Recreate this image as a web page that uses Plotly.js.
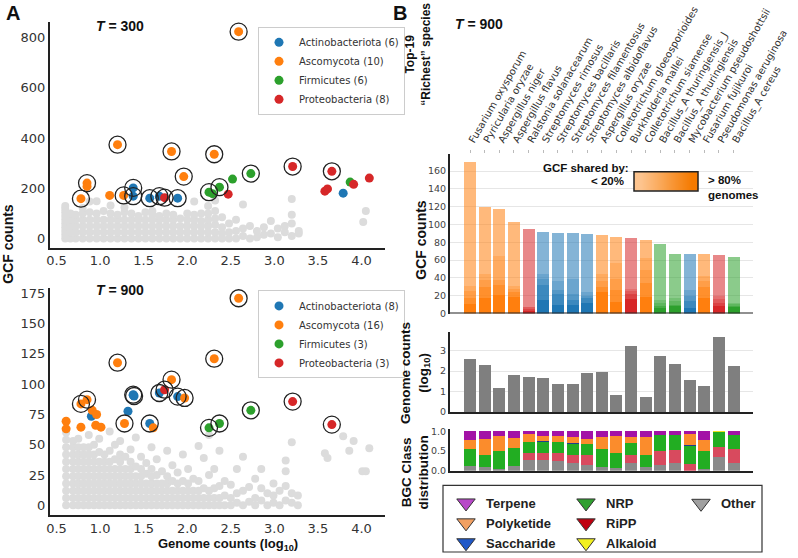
<!DOCTYPE html>
<html>
<head>
<meta charset="utf-8">
<script src="https://cdn.plot.ly/plotly-3.0.1.min.js"></script>
<style>
  html, body { margin: 0; padding: 0; background: #fff; }
  #chart { width: 798px; height: 558px; }
</style>
</head>
<body>
<div id="chart"></div>
<script>
// ---------- data: panel A ----------
var phyla = ["Actinobacteriota", "Ascomycota", "Firmicutes", "Proteobacteria"];
var phylumColors = ["#1f77b4", "#ff7f0e", "#2ca02c", "#d62728"];

// T = 300  (x = genome counts log10, y = GCF counts, top = circled top-19 species)
var act300X = [1.38, 1.38, 1.57, 1.68, 1.89, 3.79];
var act300Y = [202, 169, 161, 169, 161, 181];
var act300Top = [1, 1, 1, 1, 1, 0];
var asc300X = [0.78, 0.85, 0.85, 1.11, 1.27, 1.20, 1.82, 1.96, 2.31, 2.59];
var asc300Y = [159, 221, 208, 172, 172, 374, 347, 247, 336, 824];
var asc300Top = [1, 1, 0, 0, 1, 1, 1, 1, 1, 1];
var fir300X = [2.25, 2.29, 2.37, 2.52, 2.73, 3.87];
var fir300Y = [185, 179, 205, 237, 259, 225];
var fir300Top = [1, 0, 1, 0, 1, 0];
var pro300X = [1.74, 2.47, 3.21, 3.58, 3.61, 3.66, 3.91, 4.09];
var pro300Y = [163, 177, 287, 189, 198, 268, 216, 241];
var pro300Top = [1, 0, 1, 0, 0, 1, 0, 0];

// T = 900
var act900X = [1.38, 1.39, 1.38, 1.68, 1.89, 1.57, 1.32, 0.90];
var act900Y = [91.3, 90.2, 90.8, 92.7, 89.7, 67.5, 77.6, 73.5];
var act900Top = [1, 1, 0, 1, 1, 1, 0, 0];
var asc900X = [2.59, 2.31, 1.20, 1.82, 1.97, 0.85, 0.78, 1.28, 0.61, 0.61, 0.78, 0.91, 0.96, 0.95, 1.01, 1.61];
var asc900Y = [170.9, 121, 117.7, 103.7, 88.6, 87.2, 83.7, 67.5, 69.4, 63.1, 64.5, 78.4, 74.9, 66.1, 64.5, 63.9];
var asc900Top = [1, 1, 1, 1, 1, 1, 1, 1, 0, 0, 0, 0, 0, 0, 0, 0];
var fir900X = [2.25, 2.37, 2.73];
var fir900Y = [63.9, 67.5, 78.4];
var fir900Top = [1, 1, 1];
var pro900X = [1.74, 3.21, 3.66];
var pro900Y = [95.4, 85.6, 66.6];
var pro900Top = [1, 1, 1];

// all other species (grey cloud), as [x, [y values]] columns
var bg300 = [
  [0.60, [0, 15, 30, 45, 60, 75, 90, 105, 118, 130]], [0.66, [0, 25, 50, 75, 100]],
  [0.72, [0, 25, 50, 75, 95]], [0.80, [0, 25, 50, 75, 100, 122]],
  [0.88, [0, 25, 50, 75, 105, 148]], [0.96, [0, 25, 50, 75, 100, 149]],
  [1.04, [0, 25, 50, 75, 110]], [1.12, [0, 25, 50, 75, 100, 132]],
  [1.20, [0, 25, 50, 75, 95]], [1.28, [0, 25, 50, 75, 105, 125]],
  [1.36, [0, 25, 50, 75, 100]], [1.44, [0, 25, 50, 75, 90]],
  [1.52, [0, 25, 50, 75, 105]], [1.60, [0, 25, 50, 75, 95, 110]],
  [1.68, [0, 25, 50, 75, 90]], [1.76, [0, 25, 50, 75, 100]],
  [1.84, [0, 25, 50, 75, 95]], [1.92, [0, 25, 50, 80]],
  [2.00, [0, 25, 50, 75, 100]], [2.08, [0, 25, 50, 75, 95, 148]],
  [2.16, [0, 25, 50, 70, 100]], [2.24, [0, 25, 50, 75, 100, 130]],
  [2.32, [0, 25, 55, 80, 110, 152]], [2.40, [0, 20, 45, 85]],
  [2.48, [0, 25, 60]], [2.56, [0, 30, 75]], [2.64, [10, 40, 136]],
  [2.72, [0, 50]], [2.80, [5, 30]], [2.88, [15, 45]], [2.96, [20, 70]],
  [3.04, [5, 40]], [3.12, [25, 50]], [3.20, [10, 60, 95, 158]],
  [3.28, [20, 30]], [4.02, [66]], [4.05, [110]]
];
var bg900 = [
  [0.61, [0, 6, 12, 18, 24, 30, 36, 42, 48, 54, 60]], [0.69, [0, 6, 12, 18, 24, 30, 36, 42, 48, 53]],
  [0.75, [0, 6, 12, 18, 24, 30, 36, 42, 48, 55]], [0.81, [0, 6, 12, 18, 24, 30, 36, 42, 48]],
  [0.87, [0, 6, 12, 18, 24, 30, 36, 42, 48, 58]], [0.93, [0, 6, 12, 18, 24, 30, 36, 42, 50]],
  [0.99, [0, 6, 12, 18, 24, 30, 36, 44, 55]], [1.05, [0, 6, 12, 18, 24, 30, 36, 42]],
  [1.11, [0, 6, 12, 18, 24, 30, 36, 45, 61]], [1.17, [0, 6, 12, 18, 24, 30, 38, 50]],
  [1.23, [0, 6, 12, 18, 24, 30, 36, 42, 53]], [1.29, [0, 6, 12, 18, 24, 30, 40]],
  [1.35, [0, 6, 12, 18, 24, 30, 36, 46]], [1.41, [0, 6, 12, 18, 24, 32, 56]],
  [1.47, [0, 6, 12, 18, 24, 30, 40]], [1.53, [0, 6, 12, 18, 26, 35]],
  [1.59, [0, 6, 12, 18, 24, 30, 48]], [1.65, [0, 6, 12, 18, 25, 38]],
  [1.71, [0, 6, 12, 18, 28]], [1.77, [0, 6, 12, 18, 24, 45]],
  [1.83, [0, 6, 12, 20, 33]], [1.89, [0, 6, 12, 18, 27]],
  [1.95, [0, 6, 12, 20, 42]], [2.01, [0, 6, 12, 18, 30]],
  [2.07, [0, 6, 12, 22]], [2.13, [0, 6, 12, 20, 49]], [2.19, [0, 6, 14, 39]],
  [2.25, [0, 6, 12, 25, 58]], [2.31, [0, 6, 14, 30]], [2.37, [0, 6, 16, 45]],
  [2.43, [0, 8, 20]], [2.50, [0, 6, 17]], [2.57, [2, 10, 30]], [2.64, [0, 12, 40]],
  [2.71, [3, 15]], [2.78, [0, 6, 22]], [2.85, [4, 14, 30]], [2.92, [0, 10]],
  [2.99, [2, 8, 18]], [3.06, [0, 12]], [3.13, [4, 16, 28, 37]], [3.20, [2, 10, 52]],
  [3.27, [0, 8]], [3.58, [43]], [3.61, [39]], [3.79, [57]], [3.86, [45]],
  [3.91, [53]], [4.01, [28]], [4.05, [28]], [4.09, [47]]
];

// ---------- data: panel B ----------
var species = ["Fusarium oxysporum", "Pyricularia oryzae", "Aspergillus niger", "Aspergillus flavus",
  "Ralstonia solanacearum", "Streptomyces rimosus", "Streptomyces bacillaris", "Streptomyces filamentosus",
  "Streptomyces albidoflavus", "Aspergillus oryzae", "Colletotrichum gloeosporioides", "Burkholderia mallei",
  "Colletotrichum siamense", "Bacillus_A thuringiensis_J", "Bacillus_A thuringiensis",
  "Mycobacterium pseudoshottsii", "Fusarium fujikuroi", "Pseudomonas aeruginosa", "Bacillus_A cereus"];
var speciesPhylum = [1, 1, 1, 1, 3, 0, 0, 0, 0, 1, 1, 3, 1, 2, 2, 0, 1, 3, 2];

// GCF counts split by share of genomes holding the GCF
var sharedOver80 = [11, 18, 21, 19, 3, 15, 10, 10, 12, 24, 13, 16, 19, 6, 8, 6, 18, 8, 7];
var shared60to80 = [7, 12, 11, 5, 2, 17, 12, 5, 5, 6, 13, 6, 15, 3, 2, 8, 12, 4, 2];
var shared40to60 = [7, 8, 6, 4, 2, 7, 5, 7, 3, 7, 13, 3, 15, 3, 4, 6, 7, 4, 2];
var shared20to40 = [6, 7, 27, 3, 0, 6, 10, 17, 4, 8, 18, 3, 13, 3, 4, 7, 5, 4, 1];
var sharedUnder20 = [139, 75, 52, 72, 88, 47, 54, 51, 65, 43, 29, 57, 21, 63, 49, 40, 25, 46, 51];

var genomeCounts = [2.60, 2.31, 1.19, 1.81, 1.73, 1.66, 1.35, 1.35, 1.89, 1.97, 0.82, 3.21, 0.76, 2.73, 2.37, 1.56, 1.26, 3.68, 2.24];

// BGC class fractions
var fracOther = [0.12, 0.10, 0.04, 0.13, 0.28, 0.28, 0.24, 0.20, 0.15, 0.09, 0.08, 0.20, 0.10, 0.15, 0.19, 0, 0.04, 0.36, 0.19];
var fracRiPP = [0, 0, 0, 0, 0.18, 0.16, 0.20, 0.20, 0.24, 0, 0, 0.20, 0, 0.35, 0.34, 0.17, 0, 0.25, 0.35];
var fracNRP = [0.43, 0.31, 0.46, 0.44, 0.28, 0.30, 0.29, 0.28, 0.29, 0.47, 0.36, 0.29, 0.31, 0.41, 0.37, 0.45, 0.47, 0.37, 0.36];
var fracSaccharide = [0, 0, 0, 0, 0, 0.015, 0, 0.015, 0, 0, 0, 0, 0, 0, 0, 0.02, 0, 0, 0];
var fracPolyketide = [0.24, 0.40, 0.37, 0.27, 0.18, 0.13, 0.14, 0.17, 0.12, 0.29, 0.43, 0.17, 0.44, 0, 0, 0.29, 0.28, 0, 0];
var fracAlkaloid = [0, 0, 0, 0, 0, 0, 0, 0, 0, 0, 0, 0, 0, 0, 0, 0, 0, 0.025, 0];
var fracTerpene = [0.21, 0.19, 0.13, 0.16, 0.08, 0.12, 0.13, 0.13, 0.20, 0.15, 0.13, 0.14, 0.15, 0.09, 0.10, 0.07, 0.21, 0, 0.10];

var bgcClasses = ["Other", "RiPP", "NRP", "Saccharide", "Polyketide", "Alkaloid", "Terpene"];
var bgcFractions = [fracOther, fracRiPP, fracNRP, fracSaccharide, fracPolyketide, fracAlkaloid, fracTerpene];
var bgcBarColors = ["#8a8a8a", "#d84a5e", "#22ad22", "#1f3d8a", "#fb8c2c", "#f0e020", "#a312a6"];
var bgcLegendColors = {Terpene: "#b848c8", Polyketide: "#f2a062", Saccharide: "#2058c8",
  NRP: "#30a030", RiPP: "#c00010", Alkaloid: "#f2f020", Other: "#a0a0a0"};
var legendColumns = [["Terpene", "Polyketide", "Saccharide"], ["NRP", "RiPP", "Alkaloid"], ["Other"]];

// ---------- helpers ----------
var W = 798, H = 558;
function px(x) { return x / W; }
function py(y) { return 1 - y / H; }
function hexA(hex, a) {
  var n = parseInt(hex.slice(1), 16);
  return "rgba(" + (n >> 16) + "," + ((n >> 8) & 255) + "," + (n & 255) + "," + a + ")";
}
function flat(cols) {
  var x = [], y = [];
  cols.forEach(function (c) { c[1].forEach(function (v) { x.push(c[0]); y.push(v); }); });
  return {x: x, y: y};
}

var traces = [];

// ---------- panel A traces ----------
function scatterPanel(bg, groups, xa, ya, legendId) {
  var g = flat(bg);
  traces.push({type: "scatter", mode: "markers", x: g.x, y: g.y, xaxis: xa, yaxis: ya,
    marker: {color: "#dcdcdc", size: 8}, showlegend: false, hoverinfo: "skip"});
  var cx = [], cy = [];
  groups.forEach(function (grp, i) {
    traces.push({type: "scatter", mode: "markers", x: grp[0], y: grp[1], xaxis: xa, yaxis: ya,
      name: phyla[i] + " (" + grp[0].length + ")", legend: legendId,
      marker: {color: phylumColors[i], size: 9}});
    grp[2].forEach(function (t, k) { if (t) { cx.push(grp[0][k]); cy.push(grp[1][k]); } });
  });
  traces.push({type: "scatter", mode: "markers", x: cx, y: cy, xaxis: xa, yaxis: ya,
    marker: {symbol: "circle-open", size: 17, color: "#222", line: {width: 1.3}},
    showlegend: false, hoverinfo: "skip"});
}
scatterPanel(bg300, [[act300X, act300Y, act300Top], [asc300X, asc300Y, asc300Top],
  [fir300X, fir300Y, fir300Top], [pro300X, pro300Y, pro300Top]], "x", "y", "legend");
scatterPanel(bg900, [[act900X, act900Y, act900Top], [asc900X, asc900Y, asc900Top],
  [fir900X, fir900Y, fir900Top], [pro900X, pro900Y, pro900Top]], "x2", "y2", "legend2");

// ---------- panel B traces ----------
var shareBins = [sharedOver80, shared60to80, shared40to60, shared20to40, sharedUnder20];
var shareAlpha = [1.0, 0.87, 0.76, 0.66, 0.55];
shareBins.forEach(function (vals, b) {
  traces.push({type: "bar", x: species, y: vals, xaxis: "x3", yaxis: "y3", showlegend: false,
    marker: {color: speciesPhylum.map(function (p) { return hexA(phylumColors[p], shareAlpha[b]); }),
      line: {width: 0}}});
});

traces.push({type: "bar", x: species, y: genomeCounts, xaxis: "x4", yaxis: "y4", showlegend: false,
  marker: {color: "#7f7f7f", line: {width: 0}}});

bgcFractions.forEach(function (vals, i) {
  traces.push({type: "bar", x: species, y: vals, xaxis: "x5", yaxis: "y5", showlegend: false,
    name: bgcClasses[i], marker: {color: bgcBarColors[i], line: {width: 0}}});
});

// BGC class legend entries
legendColumns.forEach(function (col, c) {
  col.forEach(function (name) {
    traces.push({type: "scatter", mode: "markers", x: [null], y: [null], xaxis: "x5", yaxis: "y5",
      name: name, legend: "legend" + (c + 3),
      marker: {symbol: "triangle-down", size: 16, color: bgcLegendColors[name], line: {color: "#333", width: 1}}});
  });
});

// gradient key for the share bins
traces.push({type: "heatmap", z: [[0, 1, 2, 3, 4]], xaxis: "x6", yaxis: "y6", zsmooth: "best",
  colorscale: [[0, "#fdc48e"], [1, "#f57a00"]], showscale: false, hoverinfo: "skip"});

// ---------- layout ----------
var tickFontA = {family: "DejaVu Sans", size: 13, color: "#333"};
var tickFontB = {family: "DejaVu Sans", size: 9.5, color: "#444"};
function scatterX() {
  return {domain: [px(50), px(385)], range: [0.425, 4.27], showline: true, linecolor: "#222", linewidth: 2,
    showgrid: false, zeroline: false, ticks: "", tickvals: [0.5, 1, 1.5, 2, 2.5, 3, 3.5, 4],
    tickformat: ".1f", tickfont: tickFontA};
}
function catX(top, anchor) {
  return {domain: [px(450), px(753)], type: "category", range: [-1.37, 19.33], anchor: anchor,
    showgrid: false, zeroline: false, showline: !top, linecolor: "#222", linewidth: 2,
    showticklabels: !!top, ticks: top ? "outside" : "", ticklen: 3, tickcolor: "#bbb",
    side: top ? "top" : "bottom", tickangle: -60,
    tickfont: {family: "DejaVu Sans", size: 10, color: "#333"}};
}
function bY(top, bottom, range, vals, grid, anchor) {
  return {domain: [py(bottom), py(top)], range: range, tickvals: vals, anchor: anchor,
    showline: true, linecolor: "#222", linewidth: 2, zeroline: false, ticks: "",
    showgrid: grid, gridcolor: "#e6e6e6", tickfont: tickFontB};
}

function ann(text, x, y, o) {
  o = o || {};
  return {text: text, xref: "paper", yref: "paper", x: px(x), y: py(y), showarrow: false,
    xanchor: o.xanchor || "center", yanchor: "middle", textangle: o.angle || 0,
    font: {family: "Liberation Sans", size: o.size || 14, color: "#111"}, align: o.align || "center"};
}

var legendA = {xanchor: "left", yanchor: "top", bgcolor: "#fff", bordercolor: "#ccc", borderwidth: 1,
  font: {family: "DejaVu Sans", size: 10, color: "#333"}, itemwidth: 30, traceorder: "normal"};
function legendAt(x, y, base) {
  var o = Object.assign({}, base);
  o.x = px(x); o.y = py(y);
  return o;
}
var legendB = {xanchor: "left", yanchor: "top", bgcolor: "rgba(0,0,0,0)", borderwidth: 0,
  font: {family: "Liberation Sans", size: 13, color: "#222", weight: "bold"}, itemwidth: 30,
  traceorder: "normal"};

var layout = {
  width: W, height: H,
  margin: {l: 0, r: 0, t: 0, b: 0},
  paper_bgcolor: "#fff", plot_bgcolor: "#fff",
  barmode: "stack", bargap: 0.18,
  hovermode: false,
  xaxis: Object.assign(scatterX(), {anchor: "y"}),
  yaxis: {domain: [py(249), py(22)], range: [-36, 863], anchor: "x", tickvals: [0, 200, 400, 600, 800],
    showline: true, linecolor: "#222", linewidth: 2, showgrid: false, zeroline: false, ticks: "", tickfont: tickFontA},
  xaxis2: Object.assign(scatterX(), {anchor: "y2"}),
  yaxis2: {domain: [py(518), py(290)], range: [-8.2, 179], anchor: "x2", tickvals: [0, 25, 50, 75, 100, 125, 150, 175],
    showline: true, linecolor: "#222", linewidth: 2, showgrid: false, zeroline: false, ticks: "", tickfont: tickFontA},
  xaxis3: catX(true, "y3"),
  yaxis3: bY(155, 315.3, [0, 179], [0, 20, 40, 60, 80, 100, 120, 140, 160], true, "x3"),
  xaxis4: catX(false, "y4"),
  yaxis4: bY(334, 414.3, [0, 3.9], [0, 1, 2, 3], true, "x4"),
  xaxis5: catX(false, "y5"),
  yaxis5: Object.assign(bY(431.6, 473.3, [0, 1.05], [0, 0.5, 1], false, "x5"), {tickformat: ".1f"}),
  xaxis6: {domain: [px(634), px(698)], anchor: "y6", visible: false},
  yaxis6: {domain: [py(192), py(172.7)], anchor: "x6", visible: false},
  legend: legendAt(258, 27, legendA),
  legend2: legendAt(258, 292, legendA),
  legend3: legendAt(446, 491, legendB),
  legend4: legendAt(566, 491, legendB),
  legend5: legendAt(681, 491, legendB),
  shapes: [
    {type: "line", xref: "x3 domain", yref: "y3", x0: 0, x1: 1, y0: 0, y1: 0, line: {color: "#222", width: 2}},
    {type: "rect", xref: "x6 domain", yref: "y6 domain", x0: 0, x1: 1, y0: 0, y1: 1, line: {color: "#222", width: 1.5}},
    {type: "rect", xref: "paper", yref: "paper", x0: px(443), x1: px(762), y0: py(555), y1: py(488),
      line: {color: "#333", width: 1.2}}
  ],
  annotations: [
    ann("<b>A</b>", 13, 13, {size: 20}),
    ann("<b>B</b>", 400, 13, {size: 20}),
    ann("<b><i>T</i> = 300</b>", 120, 26),
    ann("<b><i>T</i> = 900</b>", 120, 292),
    ann("<b><i>T</i> = 900</b>", 479, 24),
    ann("<b>GCF counts</b>", 8, 245, {angle: -90}),
    ann("<b>Genome counts (log<sub>10</sub>)</b>", 228, 547, {size: 13}),
    ann("<b>Top-19<br>\u201cRichest\u201d species</b>", 418, 55, {angle: -90, size: 12}),
    ann("<b>GCF counts</b>", 421, 241, {angle: -90}),
    ann("<b>Genome counts<br>(log<sub>10</sub>)</b>", 415, 375, {angle: -90, size: 13.5}),
    ann("<b>BGC Class<br>distribution</b>", 415, 475, {angle: -90, size: 13.5}),
    ann("<b>GCF shared by:</b>", 586, 169, {size: 11.5}),
    ann("<b>&lt; 20%</b>", 626, 182, {size: 11.5, xanchor: "right"}),
    ann("<b>&gt; 80%<br>genomes</b>", 706, 189, {size: 11.5, xanchor: "left", align: "left"})
  ]
};

Plotly.newPlot("chart", traces, layout, {displayModeBar: false, staticPlot: true});
</script>
</body>
</html>
